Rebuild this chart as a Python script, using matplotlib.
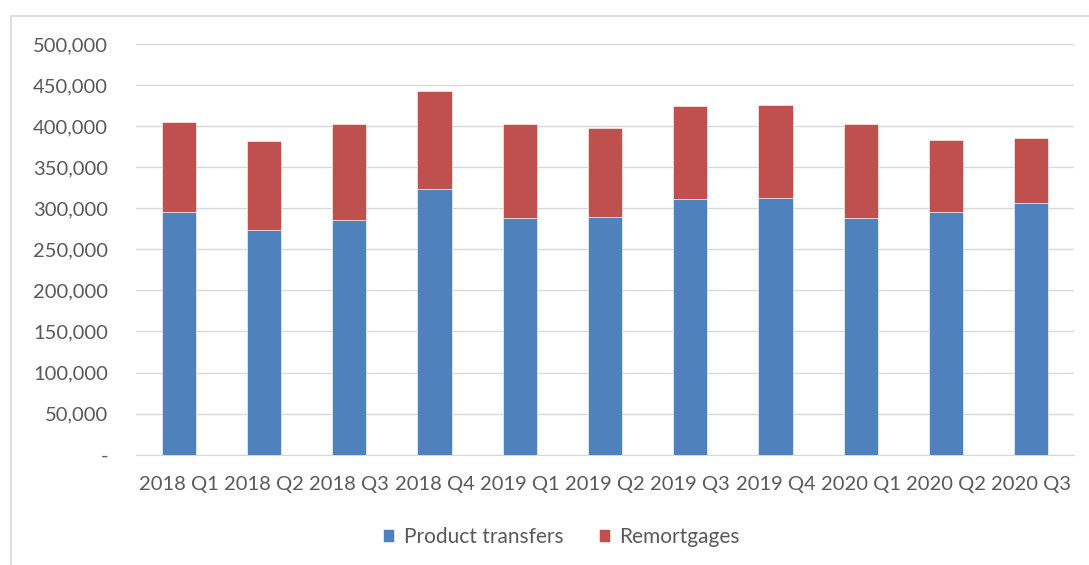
import matplotlib
matplotlib.use("Agg")
import matplotlib.pyplot as plt
from matplotlib.patches import Rectangle
from matplotlib.ticker import FuncFormatter

quarters = ["2018 Q1", "2018 Q2", "2018 Q3", "2018 Q4", "2019 Q1", "2019 Q2",
            "2019 Q3", "2019 Q4", "2020 Q1", "2020 Q2", "2020 Q3"]
product_transfers = [295000, 273000, 286000, 324000, 288000, 289000,
                     311000, 313000, 288000, 295000, 306000]
remortgages = [110000, 109000, 116000, 119000, 114000, 109000,
               113000, 112500, 114000, 88000, 80000]

blue = "#4F81BD"
red = "#C0504D"
grey = "#595959"

plt.rcParams['font.family'] = ['Lato', 'DejaVu Sans']

fig = plt.figure(figsize=(10.89, 5.65), dpi=100)
ax = fig.add_axes([136 / 1089, 1 - 454.7 / 565, (1074 - 136) / 1089, (454.7 - 44) / 565])

# chart border like the spreadsheet frame
fig.patches.append(Rectangle((11 / 1089, -0.1), 1.2, 1 - 16 / 565 + 0.1,
                             transform=fig.transFigure, fill=False,
                             edgecolor="#D9D9D9", lw=1.2))

x = range(len(quarters))
ax.bar(x, product_transfers, width=0.4, color=blue, label="Product transfers",
       edgecolor="white", linewidth=0.4, zorder=3)
ax.bar(x, remortgages, width=0.4, bottom=product_transfers, color=red,
       label="Remortgages", edgecolor="white", linewidth=0.4, zorder=3)

ax.set_xlim(-0.5, len(quarters) - 0.5)
ax.set_ylim(0, 500000)
ax.set_yticks(range(0, 500001, 50000))
ax.yaxis.set_major_formatter(FuncFormatter(lambda v, p: "-" if v == 0 else f"{int(v):,}"))
ax.set_xticks(list(x))
ax.set_xticklabels(quarters)

ax.grid(axis="y", color="#D9D9D9", lw=1, zorder=0)
for s in ["top", "right", "left"]:
    ax.spines[s].set_visible(False)
ax.spines["bottom"].set_color("#D9D9D9")
ax.tick_params(axis="both", length=0, labelsize=14.5, colors=grey)
ax.tick_params(axis="y", pad=20)
ax.tick_params(axis="x", pad=15)

fig.legend(loc="center", bbox_to_anchor=(561.5 / 1089, 1 - 537 / 565), ncol=2,
           frameon=False, fontsize=15, labelcolor=grey, handlelength=0.55,
           handleheight=0.55, columnspacing=1.7, handletextpad=0.45)

fig.savefig("out.png", dpi=100, facecolor="white")
